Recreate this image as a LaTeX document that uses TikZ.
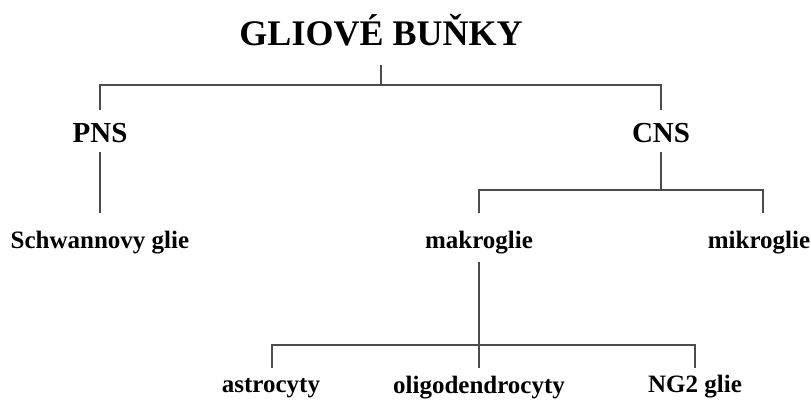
\documentclass[tikz,border=0pt]{standalone}
\usepackage{fontspec}
\setmainfont{Liberation Serif}
\begin{document}
\begin{tikzpicture}[x=1pt, y=-1pt,
        tree/.style={draw=black!70, line width=1.3pt},
        lbl/.style={anchor=base, inner sep=0pt, font=\bfseries\fontsize{25}{28}\selectfont},
        grp/.style={anchor=base, inner sep=0pt, font=\bfseries\fontsize{29}{32}\selectfont}]
        \useasboundingbox (0,0) rectangle (811,399);

        % Title and the two systems
        \node[anchor=base, inner sep=0pt, font=\bfseries\fontsize{36}{40}\selectfont] (title) at (381,45) {GLIOVÉ BUŇKY};
        \node[grp] (pns) at (100,142) {PNS};
        \node[grp] (cns) at (661,142) {CNS};

        % Second level
        \node[lbl] (schwann) at (100,248) {Schwannovy glie};
        \node[lbl] (makro) at (479,248) {makroglie};
        \node[lbl] (mikro) at (759,248) {mikroglie};

        % Types of macroglia
        \node[lbl] (astro) at (271,392) {astrocyty};
        \node[lbl] (oligo) at (479,393) {oligodendrocyty};
        \node[lbl] (ng2) at (695,392) {NG2 glie};

        % Junction points
        \coordinate (top) at (381,85);
        \coordinate (mid) at (661,190);
        \coordinate (low) at (479,345);

        % Branches
        \draw[tree] ([yshift=-20pt]title.base) -- (top);
        \draw[tree] ([yshift=32pt]pns.base) |- (top) -| ([yshift=32pt]cns.base);
        \draw[tree] ([yshift=-10pt]pns.base) -- ([yshift=35pt]schwann.base);
        \draw[tree] ([yshift=-10pt]cns.base) -- (mid);
        \draw[tree] ([yshift=35pt]makro.base) |- (mid) -| ([xshift=4pt, yshift=35pt]mikro.base);
        \draw[tree] ([yshift=-14pt]makro.base) -- (low);
        \draw[tree] ([xshift=1pt, yshift=24pt]astro.base) |- (low) -| ([yshift=24pt]ng2.base);
        \draw[tree] (low) -- ([yshift=25pt]oligo.base);
\end{tikzpicture}
\end{document}
